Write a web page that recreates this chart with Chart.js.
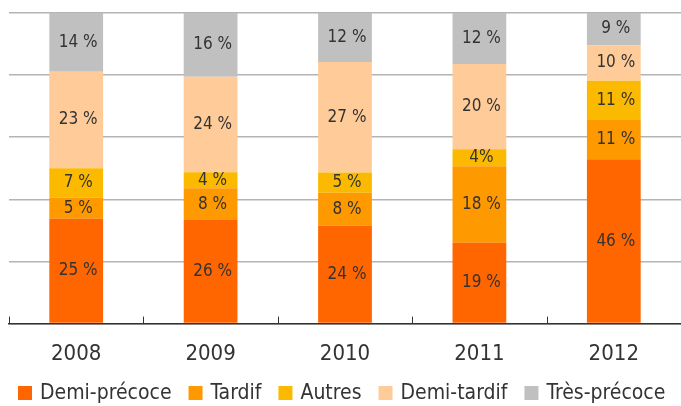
<!DOCTYPE html>
<html>
<head>
<meta charset="utf-8">
<script src="https://cdn.jsdelivr.net/npm/chart.js@4"></script>
<style>
html,body{margin:0;padding:0;background:#fff;}
#wrap{width:681px;height:406px;position:relative;}
</style>
</head>
<body>
<div id="wrap"><canvas id="c" width="681" height="406"></canvas></div>
<script>
const categories = ['2008', '2009', '2010', '2011', '2012'];
const demiPrecoce = [25, 26, 24, 19, 46];
const tardif = [5, 8, 8, 18, 11];
const autres = [7, 4, 5, 4, 11];
const demiTardif = [23, 24, 27, 20, 10];
const tresPrecoce = [14, 16, 12, 12, 9];
const autresLabels = ['7 %', '4 %', '5 %', '4%', '11 %'];

const FONT = "'DejaVu Sans Condensed', 'Liberation Sans Narrow', 'Roboto', sans-serif";
const TEXT = '#333333';

const series = [
  { name: 'Demi-précoce', values: demiPrecoce, color: '#FF6600' },
  { name: 'Tardif', values: tardif, color: '#FF9900' },
  { name: 'Autres', values: autres, color: '#FBBA00', labels: autresLabels },
  { name: 'Demi-tardif', values: demiTardif, color: '#FFCC99' },
  { name: 'Très-précoce', values: tresPrecoce, color: '#C0C0C0' }
];

const totals = categories.map((_, i) => series.reduce((s, d) => s + d.values[i], 0));

const datasets = series.map(s => ({
  label: s.name,
  data: s.values.map((v, i) => v / totals[i] * 100),
  labelTexts: s.labels || s.values.map(v => v + ' %'),
  backgroundColor: s.color,
  borderWidth: 0,
  barPercentage: 0.8,
  categoryPercentage: 0.5
}));

const labelPlugin = {
  id: 'segLabels',
  afterDatasetsDraw(chart) {
    const ctx = chart.ctx;
    ctx.save();
    ctx.font = '17px ' + FONT;
    ctx.fillStyle = TEXT;
    ctx.textAlign = 'center';
    ctx.textBaseline = 'middle';
    chart.data.datasets.forEach((ds, di) => {
      const meta = chart.getDatasetMeta(di);
      meta.data.forEach((bar, i) => {
        const yc = (bar.y + bar.base) / 2;
        ctx.fillText(ds.labelTexts[i], bar.x + 2, yc);
      });
    });
    ctx.restore();
  }
};

const tickPlugin = {
  id: 'innerTicks',
  afterDraw(chart) {
    const x = chart.scales.x, ctx = chart.ctx;
    const n = chart.data.labels.length;
    const w = (x.right - x.left) / n;
    ctx.save();
    ctx.strokeStyle = '#333';
    ctx.lineWidth = 1;
    for (let i = 0; i <= n; i++) {
      const px = Math.round(x.left + i * w) + 0.5;
      ctx.beginPath();
      ctx.moveTo(px, x.top);
      ctx.lineTo(px, x.top - 7);
      ctx.stroke();
    }
    ctx.restore();
  }
};

const legendPlugin = {
  id: 'customLegend',
  afterDraw(chart) {
    const ctx = chart.ctx;
    const box = 14, gap = 8, spacing = 17;
    ctx.save();
    ctx.font = '21px ' + FONT;
    ctx.textBaseline = 'middle';
    ctx.textAlign = 'left';
    let x = 18;
    const y = chart.height - 13;
    chart.data.datasets.forEach(ds => {
      const w = ctx.measureText(ds.label).width;
      ctx.fillStyle = ds.backgroundColor;
      ctx.fillRect(x, y - box / 2, box, box);
      ctx.fillStyle = TEXT;
      ctx.fillText(ds.label, x + box + gap, y + 1);
      x += box + gap + w + spacing;
    });
    ctx.restore();
  }
};

new Chart(document.getElementById('c'), {
  type: 'bar',
  data: { labels: categories, datasets },
  options: {
    responsive: false,
    animation: false,
    devicePixelRatio: 1,
    layout: { padding: { left: 9, right: 0, top: 13, bottom: 22 } },
    plugins: {
      legend: { display: false },
      tooltip: { enabled: false }
    },
    scales: {
      x: {
        stacked: true,
        grid: { display: false, drawTicks: false },
        border: { display: true, color: '#333', width: 1.5 },
        ticks: {
          font: { family: FONT, size: 22 },
          color: TEXT,
          padding: 17,
          maxRotation: 0
        }
      },
      y: {
        stacked: true,
        min: 0,
        max: 100,
        ticks: { display: false, stepSize: 20 },
        grid: { color: '#b4b4b4', lineWidth: 1.5, drawTicks: false },
        border: { display: false }
      }
    }
  },
  plugins: [labelPlugin, tickPlugin, legendPlugin]
});
</script>
</body>
</html>
